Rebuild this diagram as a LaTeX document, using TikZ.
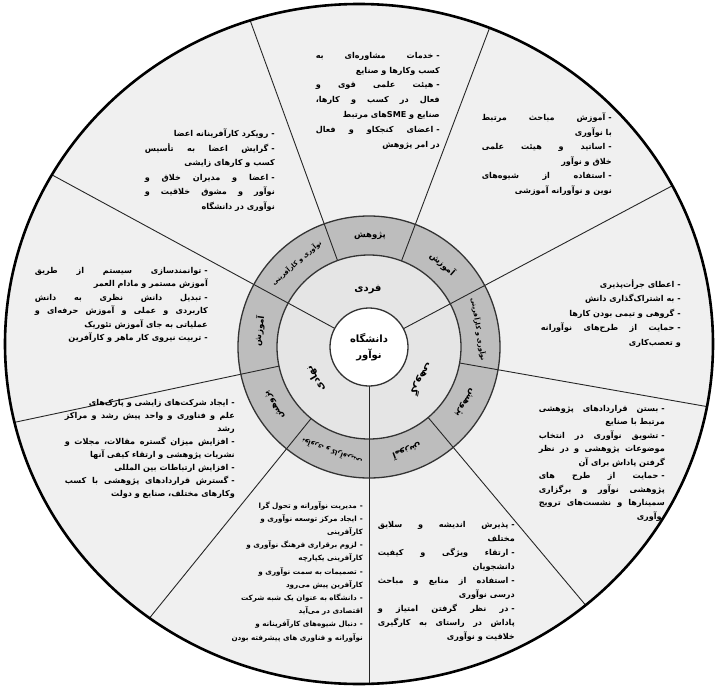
\documentclass[tikz,border=0pt]{standalone}
\usepackage{fontspec}
\newfontfamily\fa[Script=Arabic]{DejaVu Sans}
\TeXXeTstate=1
\usetikzlibrary{calc}
\newcommand\D{-\kern3pt}
\newcommand\F[2]{\setbox0\hbox{#2}\ifdim\wd0<#1pt \makebox[#1pt][s]{#2}\else\box0\fi}
\tikzset{
  blk/.style={inner sep=0pt, align=right, anchor=north east, font=\fa\bfseries\fontsize{8.1}{#1}\selectfont},
  ringlbl/.style={inner sep=0pt, font=\fa\bfseries\fontsize{#1}{#1}\selectfont},
  divline/.style={line width=0.9pt, black!85},
  ringedge/.style={line width=1.3pt, black!80}
}
\begin{document}
\begin{tikzpicture}[x=1pt,y=-1pt]
\useasboundingbox (0,0) rectangle (718,688);
% outer disc
\fill[black!6] (359,344) ellipse [x radius=354, y radius=340];
% ring and inner disc
\fill[black!26] (369,347) circle [radius=131];
\fill[black!10] (369,347) circle [radius=92];
\fill[white] (369,347) circle [radius=39];
% dividers
\begin{scope}
\clip (359,344) ellipse [x radius=354, y radius=340];
\foreach \a in {69.3,110,192,231,310,350}
  \draw[divline] ({369+92*cos(\a)},{347-92*sin(\a)}) -- ({369+420*cos(\a)},{347-420*sin(\a)});
\foreach \a in {28,151.5,270}
  \draw[divline] ({369+39*cos(\a)},{347-39*sin(\a)}) -- ({369+420*cos(\a)},{347-420*sin(\a)});
\end{scope}
\draw[ringedge] (369,347) circle [radius=131];
\draw[ringedge] (369,347) circle [radius=92];
\draw[ringedge] (369,347) circle [radius=39];
\draw[line width=2.6pt] (359,344) ellipse [x radius=354, y radius=340];
% ring labels
\foreach \a/\t/\s in {48.5/آموزش/8.5, 89.5/پژوهش/8.5, 130.75/نوآوری و کارآفرینی/6.5,
  171.75/آموزش/8.5, 211.5/پژوهش/8.5, 250.5/نوآوری و کارآفرینی/6.5,
  290/آموزش/8.5, 330/پژوهش/8.5, 9.25/نوآوری و کارآفرینی/6.5}
  \node[ringlbl=\s, rotate=\a-90] at ({369+111*cos(\a)},{347-111*sin(\a)}) {\beginR\t\endR};
% inner labels
\node[ringlbl=10] (fardi) at (368,290) {\beginR فردی\endR};
\node[ringlbl=10, rotate=120] (nahadi) at ({369+62*cos(210.75)},{347-62*sin(210.75)}) {\beginR نهادی\endR};
\node[ringlbl=10, rotate=239] (goruhi) at ({369+62*cos(329)},{347-62*sin(329)}) {\beginR گروهی\endR};
\node[ringlbl=10, align=center, font=\fa\bfseries\fontsize{10}{16}\selectfont] (uni) at (369,347) {\beginR دانشگاه\endR\\\beginR نوآور\endR};
% text blocks
\node[blk=14.8] (T) at (440,52) {%
\F{124}{\beginR \D خدمات مشاوره‌ای به\endR}\\
\beginR کسب وکارها و صنایع\endR\\
\F{124}{\beginR \D هیئت علمی قوی و\endR}\\
\F{124}{\beginR فعال در کسب و کارها،\endR}\\
\beginR صنایع و \beginL SME\endL های مرتبط\endR\\
\F{124}{\beginR \D اعضای کنجکاو و فعال\endR}\\
\beginR در امر پژوهش\endR};
\node[blk=14.5] (TR) at (612,113) {%
\F{130}{\beginR \D آموزش مباحث مرتبط\endR}\\
\beginR با نوآوری\endR\\
\F{130}{\beginR \D اساتید و هیئت علمی\endR}\\
\beginR خلاق و نوآور\endR\\
\F{130}{\beginR \D استفاده از شیوه‌های\endR}\\
\beginR نوین و نوآورانه آموزشی\endR};
\node[blk=14.5] (TL) at (275,129) {%
\beginR \D رویکرد کارآفرینانه اعضا\endR\\
\F{130}{\beginR \D گرایش اعضا به تأسیس\endR}\\
\beginR کسب و کارهای زایشی\endR\\
\F{130}{\beginR \D اعضا و مدیران خلاق و\endR}\\
\F{130}{\beginR نوآور و مشوق خلاقیت و\endR}\\
\beginR نوآوری در دانشگاه\endR};
\node[blk=13.5] (L) at (208,267) {%
\F{173}{\beginR \D توانمندسازی سیستم از طریق\endR}\\
\beginR آموزش مستمر و مادام العمر\endR\\
\F{173}{\beginR \D تبدیل دانش نظری به دانش\endR}\\
\F{173}{\beginR کاربردی و عملی و آموزش حرفه‌ای و\endR}\\
\beginR عملیاتی به جای آموزش تئوریک\endR\\
\beginR \D تربیت نیروی کار ماهر و کارآفرین\endR};
\node[blk=13] (BL) at (235,399) {%
\beginR \D ایجاد شرکت‌های زایشی و پارک‌های\endR\\
\F{170}{\beginR علم و فناوری و واحد پیش رشد و مراکز\endR}\\
\beginR رشد\endR\\
\F{170}{\beginR \D افزایش میزان گستره مقالات، مجلات و\endR}\\
\beginR نشریات پژوهشی و ارتقاء کیفی آنها\endR\\
\beginR \D افزایش ارتباطات بین المللی\endR\\
\F{170}{\beginR \D گسترش قراردادهای پژوهشی با کسب\endR}\\
\beginR وکارهای مختلف، صنایع و دولت\endR};
\node[blk=14.5] (RR) at (681,279) {%
\beginR \D اعطای جرأت‌پذیری\endR\\
\beginR \D به اشتراک‌گذاری دانش\endR\\
\beginR \D گروهی و تیمی بودن کارها\endR\\
\F{140}{\beginR \D حمایت از طرح‌های نوآورانه\endR}\\
\beginR و تعصب‌کاری\endR};
\node[blk=13.5] (BR) at (665,405) {%
\F{126}{\beginR \D بستن قراردادهای پژوهشی\endR}\\
\beginR مرتبط با صنایع\endR\\
\F{126}{\beginR \D تشویق نوآوری در انتخاب\endR}\\
\F{126}{\beginR موضوعات پژوهشی و در نظر\endR}\\
\beginR گرفتن پاداش برای آن\endR\\
\F{126}{\beginR \D حمایت از طرح های\endR}\\
\F{126}{\beginR پژوهشی نوآور و برگزاری\endR}\\
\F{126}{\beginR سمینارها و نشست‌های ترویج\endR}\\
\beginR نوآوری\endR};
\node[blk=14] (B1) at (515,521) {%
\F{137}{\beginR \D پذیرش اندیشه و سلایق\endR}\\
\beginR مختلف\endR\\
\F{137}{\beginR \D ارتقاء ویژگی و کیفیت\endR}\\
\beginR دانشجویان\endR\\
\F{137}{\beginR \D استفاده از منابع و مباحث\endR}\\
\beginR درسی نوآوری\endR\\
\F{137}{\beginR \D در نظر گرفتن امتیاز و\endR}\\
\F{137}{\beginR پاداش در راستای به کارگیری\endR}\\
\beginR خلاقیت و نوآوری\endR};
\node[blk=13.2, font=\fa\bfseries\fontsize{7.2}{13.2}\selectfont] (B2) at (363,501) {%
\beginR \D مدیریت نوآورانه و تحول گرا\endR\\
\beginR \D ایجاد مرکز توسعه نوآوری و\endR\\
\beginR کارآفرینی\endR\\
\beginR \D لزوم برقراری فرهنگ نوآوری و\endR\\
\beginR کارآفرینی یکپارچه\endR\\
\beginR \D تصمیمات به سمت نوآوری و\endR\\
\beginR کارآفرین پیش می‌رود\endR\\
\beginR \D دانشگاه به عنوان یک شبه شرکت\endR\\
\beginR اقتصادی در می‌آید\endR\\
\beginR \D دنبال شیوه‌های کارآفرینانه و\endR\\
\beginR نوآورانه و فناوری های پیشرفته بودن\endR};
\end{tikzpicture}
\end{document}
